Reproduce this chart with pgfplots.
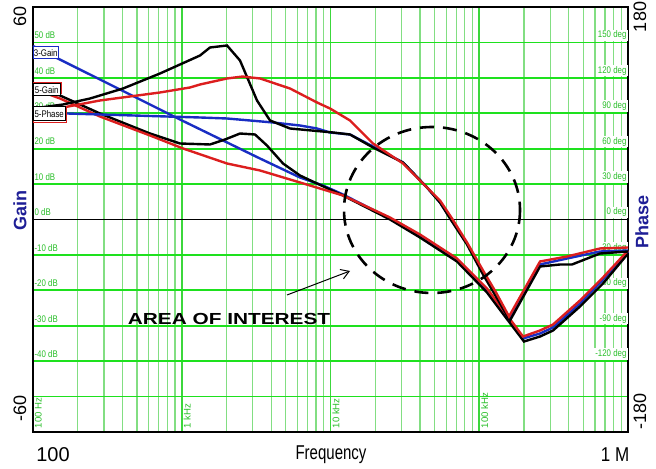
\documentclass[border=0pt]{standalone}
\usepackage{graphicx}
\usepackage{pgfplots}
\pgfplotsset{compat=1.18}
\usepackage{fontspec}
\setmainfont{Liberation Sans}
\usetikzlibrary{arrows.meta}
\definecolor{cred}{RGB}{220,30,30}
\definecolor{cblue}{RGB}{25,45,195}
\definecolor{gridh}{RGB}{30,225,30}
\definecolor{gridv}{RGB}{130,222,130}
\definecolor{gridvm}{RGB}{60,215,60}
\definecolor{glab}{RGB}{40,190,40}
\definecolor{navy}{RGB}{30,30,150}
\newcommand{\gl}{\fontsize{4.8}{5.5}\selectfont}
\newcommand{\nar}[1]{\scalebox{0.82}[1]{#1}}
\begin{document}
\begin{tikzpicture}
\path[use as bounding box] (0,0) rectangle (328pt,234.5pt);
\begin{axis}[at={(16.5pt,18.5pt)}, anchor=south west, scale only axis,
  width=297.5pt, height=212.5pt,
  xmode=log, xmin=100, xmax=1e6, ymin=-60, ymax=60,
  ytick={-50,-40,...,50},
  grid=both,
  major x grid style={gridvm, line width=0.9pt},
  minor x grid style={gridv, line width=0.6pt},
  major y grid style={gridh, line width=0.9pt},
  xticklabels={}, yticklabels={},
  major tick length=0pt, minor tick length=0pt,
  axis line style={black, line width=0.9pt},
  clip=false]
\draw[black, line width=0.75pt] (rel axis cs:0,0.5) -- (rel axis cs:1,0.5);
% gain grid labels
\foreach \v/\t in {50/50 dB,40/40 dB,30/30 dB,20/20 dB,10/10 dB,0/0 dB,-10/-10 dB,-20/-20 dB,-30/-30 dB,-40/-40 dB}{
  \edef\tmp{\noexpand\node[anchor=south west, inner sep=0.6pt, yshift=1pt, text=glab, font=\noexpand\gl] at (axis cs:100,\v) {\noexpand\nar{\t}};}\tmp
}
% phase grid labels
\foreach \v/\t in {50/150 deg,40/120 deg,30/90 deg,20/60 deg,10/30 deg,0/0 deg,-10/-30 deg,-20/-60 deg,-30/-90 deg,-40/-120 deg}{
  \edef\tmp{\noexpand\node[anchor=south east, inner sep=0.6pt, yshift=0.5pt, fill=white, text=glab, font=\noexpand\gl] at (axis cs:1000000,\v) {\noexpand\nar{\t}};}\tmp
}
% frequency labels
\foreach \f/\t in {100/100 Hz,1000/1 kHz,10000/10 kHz,100000/100 kHz}{
  \edef\tmp{\noexpand\node[rotate=90, anchor=north west, inner sep=0.8pt, text=glab, font=\noexpand\gl] at (axis cs:\f,-59.5) {\t};}\tmp
}
% gain curves
\addplot[cblue, line width=1.2pt] coordinates {(100,48.99) (147,45.46) (1020,27.81) (3358,17.22) (6237,11.86) (8902,9.60) (12136,7.06) (25119,0.28) (39966,-4.80) (70871,-11.58) (112740,-20.05) (149010,-26.82) (196800,-33.60) (256100,-32.19) (313190,-30.49) (475700,-23.72) (679100,-16.94) (1000000,-9.04)};
\addplot[black, line width=1.2pt] coordinates {(100,37.84) (152,35.01) (282,29.93) (612,24.28) (973,21.46) (1548,21.18) (1954,22.59) (2464,24.28) (3108,24.00) (3742,20.89) (4795,15.81) (6237,12.42) (8116,10.16) (12136,6.78) (25119,0.0) (39966,-5.08) (70871,-11.86) (112740,-20.61) (149010,-27.39) (199870,-34.45) (256100,-33.04) (313190,-31.34) (475700,-24.56) (679100,-18.07) (1000000,-9.60)};
\addplot[cred, line width=1.2pt] coordinates {(100,36.99) (152,34.16) (282,29.08) (612,23.72) (1020,20.05) (2015,15.81) (3358,13.84) (6237,10.45) (12136,6.78) (25119,0.56) (39966,-4.24) (70871,-11.01) (112740,-19.48) (149010,-26.26) (196800,-33.04) (256100,-31.34) (313190,-29.65) (475700,-22.87) (679100,-16.38) (1000000,-8.75)};
\end{axis}
\begin{axis}[at={(16.5pt,18.5pt)}, anchor=south west, scale only axis,
  width=297.5pt, height=212.5pt,
  xmode=log, xmin=100, xmax=1e6, ymin=-180, ymax=180, hide axis, clip=false]
\addplot[cblue, line width=1.2pt] coordinates {(100,90.64) (169,89.79) (1327,86.40) (2015,85.55) (4107,82.16) (6237,79.62) (8116,77.08) (9922,73.69) (13525,72.00) (19309,61.84) (30722,48.28) (44546,27.11) (54475,14.40) (63600,1.69) (82727,-20.33) (105970,-44.89) (129640,-64.38) (158490,-83.86) (256100,-38.12) (389000,-33.04) (648300,-27.11) (1000000,-26.26)};
\addplot[black, line width=1.2pt] coordinates {(100,94.02) (159,97.41) (242,102.49) (403,110.96) (714,123.67) (1327,138.92) (1548,145.69) (2015,147.39) (2464,134.68) (3206,100.80) (3921,83.86) (5343,77.08) (10390,73.69) (13525,72.00) (19309,60.99) (30722,48.28) (44546,27.11) (54475,14.40) (63600,0.85) (82727,-21.18) (105970,-46.59) (129640,-65.22) (160960,-85.55) (256100,-39.81) (349200,-38.12) (420200,-38.12) (648300,-28.80) (1000000,-27.11)};
\addplot[cred, line width=1.2pt] coordinates {(100,92.33) (159,94.87) (282,100.80) (714,107.58) (1136,111.81) (1327,114.35) (2015,119.44) (2560,121.1) (3358,119.44) (5343,110.96) (8116,99.11) (9922,94.02) (13525,83.86) (19309,64.38) (30722,47.44) (54475,16.09) (65594,0.85) (82727,-19.48) (105970,-43.20) (129640,-61.84) (158490,-82.16) (256100,-35.58) (389000,-31.34) (648300,-24.56) (1000000,-23.72)};
\end{axis}
\begin{scope}[x=0.5pt, y=-0.5pt, yshift=234.5pt]
% trace label boxes
\draw[cblue, line width=0.5pt, fill=white] (33.5,47) rectangle (58,59);
\node[font=\gl, inner sep=0pt] at (45.7,53) {\nar{3-Gain}};
\draw[cred, line width=0.5pt, fill=white] (33.5,82.5) rectangle (61,94);
\draw[black, line width=0.5pt, fill=white] (33.5,84) rectangle (60,96);
\node[font=\gl, inner sep=0pt] at (46.7,90) {\nar{5-Gain}};
\draw[cred, line width=0.5pt, fill=white] (33.5,109) rectangle (66,123);
\draw[black, line width=0.5pt, fill=white] (33.5,107) rectangle (65,121);
\node[font=\gl, inner sep=0pt] at (49.2,114) {\nar{5-Phase}};
% annotation
\draw[black, line width=1.3pt, dash pattern=on 7pt off 4.5pt] (432,210) ellipse (88 and 83);
\draw[black, line width=0.5pt, -{Straight Barb[length=4pt, width=5pt]}] (287,295) -- (350,271);
\node[font=\bfseries\fontsize{8}{9}\selectfont, inner sep=0pt] at (229,319) {\scalebox{1.3}[1]{AREA OF INTEREST}};
% outer labels
\node[rotate=90, font=\fontsize{9}{10}\selectfont] at (20,17) {60};
\node[rotate=90, font=\fontsize{9}{10}\selectfont] at (20,408) {-60};
\node[rotate=90, font=\bfseries\fontsize{9}{10}\selectfont, text=navy] at (20,211) {Gain};
\node[rotate=90, font=\fontsize{9}{10}\selectfont] at (640,17) {180};
\node[rotate=90, font=\fontsize{9}{10}\selectfont] at (640,411) {-180};
\node[rotate=90, font=\bfseries\fontsize{9}{10}\selectfont, text=navy] at (642,222) {Phase};
\node[font=\fontsize{10}{11}\selectfont] at (53,455) {100};
\node[font=\fontsize{10}{11}\selectfont] at (331,455) {\scalebox{0.75}[1]{Frequency}};
\node[font=\fontsize{10}{11}\selectfont] at (615,455) {\scalebox{0.85}[1]{1 M}};
\end{scope}
\end{tikzpicture}
\end{document}
